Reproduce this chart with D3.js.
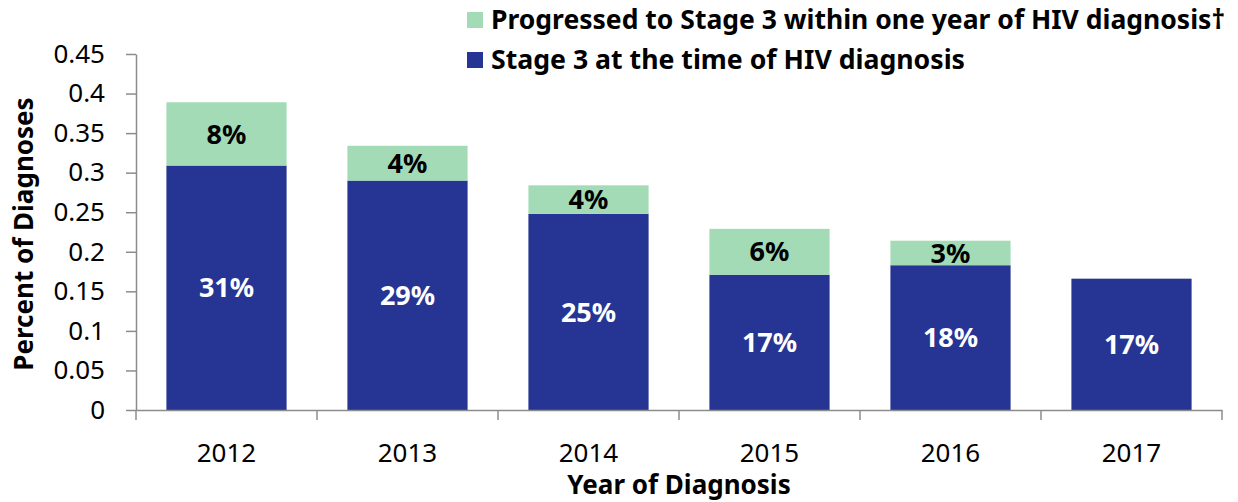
<!DOCTYPE html>
<html>
<head>
<meta charset="utf-8">
<script src="https://cdn.jsdelivr.net/npm/d3@7"></script>
<style>
  body { margin: 0; background: #fff; }
  svg { display: block; font-family: "Noto Sans", "Open Sans", sans-serif; }
  .axis path, .axis line { stroke: #8c8c8c; stroke-width: 1.5; }
  .axis text { fill: #000; font-size: 26px; font-family: "Noto Sans", "Open Sans", sans-serif; }
</style>
</head>
<body>
<svg id="chart"></svg>
<script>
const years = ['2012', '2013', '2014', '2015', '2016', '2017'];
const stage3AtDx = [0.309, 0.290, 0.248, 0.171, 0.183, 0.166];
const progressed = [0.080, 0.044, 0.036, 0.058, 0.031, 0];
const stage3Labels = ['31%', '29%', '25%', '17%', '18%', '17%'];
const progressedLabels = ['8%', '4%', '4%', '6%', '3%', ''];
const yTicks = [0, 0.05, 0.1, 0.15, 0.2, 0.25, 0.3, 0.35, 0.4, 0.45];
const legendItems = [
  { label: 'Progressed to Stage 3 within one year of HIV diagnosis\u2020', color: '#a3dbb6', len: 734 },
  { label: 'Stage 3 at the time of HIV diagnosis', color: '#263593', len: 474 }
];

const width = 1238, height = 502;
const margin = { top: 54, right: 16, bottom: 92, left: 136 };
const innerW = width - margin.left - margin.right;
const innerH = height - margin.top - margin.bottom;

const svg = d3.select('#chart').attr('width', width).attr('height', height);
const g = svg.append('g').attr('transform', `translate(${margin.left},${margin.top})`);

const x = d3.scaleBand().domain(years).range([0, innerW]).paddingInner(0.336).paddingOuter(0.168);
const y = d3.scaleLinear().domain([0, 0.45]).range([innerH, 0]);

const data = years.map((yr, i) => ({
  year: yr, blue: stage3AtDx[i], green: progressed[i],
  blueLabel: stage3Labels[i], greenLabel: progressedLabels[i]
}));

// blue segment
g.selectAll('.bar-blue').data(data).join('rect')
  .attr('class', 'bar-blue')
  .attr('x', d => x(d.year))
  .attr('width', x.bandwidth())
  .attr('y', d => y(d.blue))
  .attr('height', d => y(0) - y(d.blue))
  .attr('fill', '#263593');

// green segment stacked on top
g.selectAll('.bar-green').data(data.filter(d => d.green > 0)).join('rect')
  .attr('class', 'bar-green')
  .attr('x', d => x(d.year))
  .attr('width', x.bandwidth())
  .attr('y', d => y(d.blue + d.green))
  .attr('height', d => y(d.blue) - y(d.blue + d.green))
  .attr('fill', '#a3dbb6');

g.selectAll('.lbl-blue').data(data).join('text')
  .attr('class', 'lbl-blue')
  .attr('x', d => x(d.year) + x.bandwidth() / 2)
  .attr('y', d => (y(0) + y(d.blue)) / 2)
  .attr('dy', '0.36em')
  .attr('text-anchor', 'middle')
  .attr('fill', '#fff')
  .attr('font-weight', 'bold')
  .attr('font-size', 27)
  .text(d => d.blueLabel);

g.selectAll('.lbl-green').data(data.filter(d => d.green > 0)).join('text')
  .attr('class', 'lbl-green')
  .attr('x', d => x(d.year) + x.bandwidth() / 2)
  .attr('y', d => (y(d.blue) + y(d.blue + d.green)) / 2)
  .attr('dy', '0.36em')
  .attr('text-anchor', 'middle')
  .attr('fill', '#000')
  .attr('font-weight', 'bold')
  .attr('font-size', 27)
  .text(d => d.greenLabel);

// axes
const yAxis = d3.axisLeft(y).tickValues(yTicks).tickFormat(d => String(+d.toFixed(2))).tickSize(10).tickSizeOuter(0);
g.append('g').attr('class', 'axis y-axis').call(yAxis)
  .call(a => a.selectAll('text').attr('x', -31));

const xAxisG = g.append('g').attr('class', 'axis x-axis')
  .attr('transform', `translate(0,${innerH})`)
  .call(d3.axisBottom(x).tickSize(0).tickSizeOuter(0));
xAxisG.selectAll('text').attr('y', 52).attr('dy', 0);
// category boundary ticks
xAxisG.selectAll('.sep').data(d3.range(years.length + 1)).join('line')
  .attr('class', 'sep')
  .attr('x1', i => i * x.step()).attr('x2', i => i * x.step())
  .attr('y1', 0).attr('y2', 10);

// axis titles
svg.append('text')
  .attr('transform', `translate(33,${margin.top + innerH / 2 + 2}) rotate(-90)`)
  .attr('text-anchor', 'middle')
  .attr('font-weight', 'bold')
  .attr('font-size', 26)
  .text('Percent of Diagnoses');

svg.append('text')
  .attr('x', margin.left + innerW / 2)
  .attr('y', 494)
  .attr('text-anchor', 'middle')
  .attr('font-weight', 'bold')
  .attr('font-size', 26)
  .text('Year of Diagnosis');

// legend
const legend = svg.append('g').attr('transform', 'translate(467,12)');
const li = legend.selectAll('g').data(legendItems).join('g')
  .attr('transform', (d, i) => `translate(0,${i * 40})`);
li.append('rect').attr('width', 16).attr('height', 16).attr('fill', d => d.color);
li.append('text')
  .attr('x', 24).attr('y', 17)
  .attr('font-weight', 'bold')
  .attr('font-size', 26)
  .attr('textLength', d => d.len)
  .attr('lengthAdjust', 'spacingAndGlyphs')
  .text(d => d.label);
</script>
</body>
</html>
